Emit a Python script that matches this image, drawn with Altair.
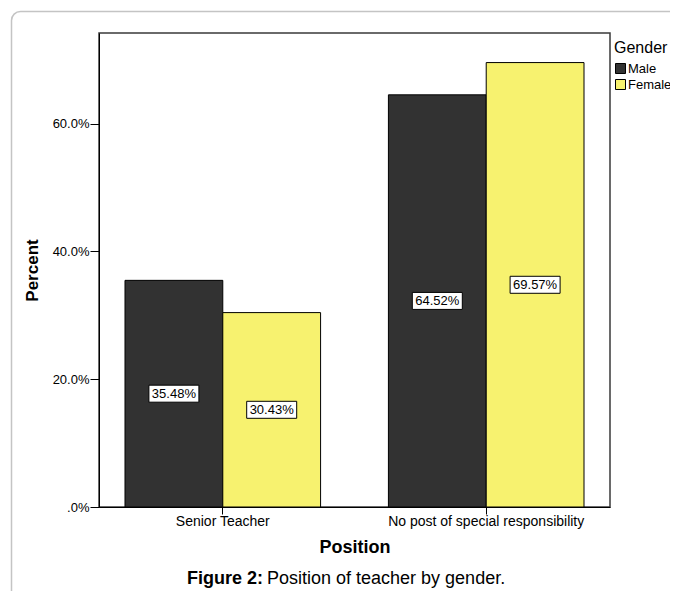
import altair as alt
import pandas as pd

# ---- data ----
positions = ["Senior Teacher", "No post of special responsibility"]
genders = ["Male", "Female"]
male_pct = [35.48, 64.52]
female_pct = [30.43, 69.57]
y_ticks = [0, 20, 40, 60]

rows = []
for p, m, f in zip(positions, male_pct, female_pct):
    rows.append({"Position": p, "Gender": "Male", "Percent": m})
    rows.append({"Position": p, "Gender": "Female", "Percent": f})
df = pd.DataFrame(rows)

FONT = "Liberation Sans"
colors = ["#323232", "#f7f26f"]

x_enc = alt.X(
    "Position:N",
    sort=positions,
    scale=alt.Scale(paddingInner=0.2575, paddingOuter=0.0987),
    axis=alt.Axis(
        title="Position",
        labelAngle=0,
        labelFontSize=14,
        labelColor="black",
        labelPadding=0,
        labelLimit=0,
        tickSize=7,
        tickColor="black",
        domainColor="black",
        titleFontSize=18,
        titleFontWeight="bold",
        titleColor="black",
        titleBaseline="alphabetic",
        titleY=45,
    ),
)
xo_enc = alt.XOffset("Gender:N", sort=genders, scale=alt.Scale(paddingInner=0, paddingOuter=0))
y_scale = alt.Scale(domain=[0, 74.2], nice=False, zero=True)

bars = alt.Chart(df).mark_bar(stroke="black", strokeWidth=1).encode(
    x=x_enc,
    xOffset=xo_enc,
    y=alt.Y(
        "Percent:Q",
        scale=y_scale,
        axis=alt.Axis(
            title="Percent",
            values=y_ticks,
            labelExpr="datum.value == 0 ? '.0%' : format(datum.value, '.1f') + '%'",
            labelFontSize=13,
            labelColor="black",
            labelPadding=1,
            tickSize=9,
            tickColor="black",
            domainColor="black",
            grid=False,
            titleFontSize=17,
            titleFontWeight="bold",
            titleColor="black",
            titleAngle=270,
            titleBaseline="alphabetic",
            titleX=-62,
            titleY=237,
        ),
    ),
    color=alt.Color(
        "Gender:N",
        sort=genders,
        scale=alt.Scale(domain=genders, range=colors),
        legend=alt.Legend(
            title="Gender",
            orient="none",
            legendX=515,
            legendY=7,
            padding=0,
            titleFontSize=16,
            titleFontWeight="normal",
            titleColor="black",
            titlePadding=6,
            labelFontSize=13,
            labelColor="black",
            labelOffset=1,
            labelLimit=0,
            symbolType="square",
            symbolSize=100,
            symbolStrokeColor="black",
            symbolStrokeWidth=1,
            symbolOpacity=1,
            rowPadding=1,
        ),
    ),
)

base_lbl = alt.Chart(df).transform_calculate(
    mid="datum.Percent / 2",
    lbl="format(datum.Percent, '.2f') + '%'",
)

boxes = base_lbl.mark_point(
    shape="M-1,-0.34L1,-0.34L1,0.34L-1,0.34Z",
    size=2500,
    filled=True,
    fill="white",
    stroke="black",
    strokeWidth=1,
    opacity=1,
).encode(
    x=alt.X("Position:N", sort=positions),
    xOffset=alt.XOffset("Gender:N", sort=genders),
    y=alt.Y("mid:Q", scale=y_scale),
)

labels = base_lbl.mark_text(fontSize=13, color="black", baseline="middle", font=FONT).encode(
    x=alt.X("Position:N", sort=positions),
    xOffset=alt.XOffset("Gender:N", sort=genders),
    y=alt.Y("mid:Q", scale=y_scale),
    text="lbl:N",
)

one = pd.DataFrame({"k": [0]})
frame = alt.Chart(one).mark_rect(
    fill=None, fillOpacity=0, stroke="#c4c4c4", strokeWidth=1.5, cornerRadius=9
).encode(
    x=alt.value(-87.5), x2=alt.value(700), y=alt.value(-21.5), y2=alt.value(640)
)

cap_bold = alt.Chart(one).mark_text(
    text="Figure 2:", fontSize=18, fontWeight="bold", color="black", align="right",
    baseline="alphabetic", font=FONT,
).encode(x=alt.value(164), y=alt.value(551))

cap_reg = alt.Chart(one).mark_text(
    text="Position of teacher by gender.", fontSize=18, color="black", align="left",
    baseline="alphabetic", font=FONT,
).encode(x=alt.value(168), y=alt.value(551))

chart = alt.layer(frame, bars, boxes, labels, cap_bold, cap_reg).properties(
    width=511,
    height=474,
    autosize="none",
    padding={"left": 91, "top": 25, "right": 60, "bottom": 84},
).configure(
    font=FONT,
).configure_view(
    stroke="#3a3a3a", strokeWidth=1.5
)

chart.save("out.html", embed_options={"renderer": "svg", "actions": False})
